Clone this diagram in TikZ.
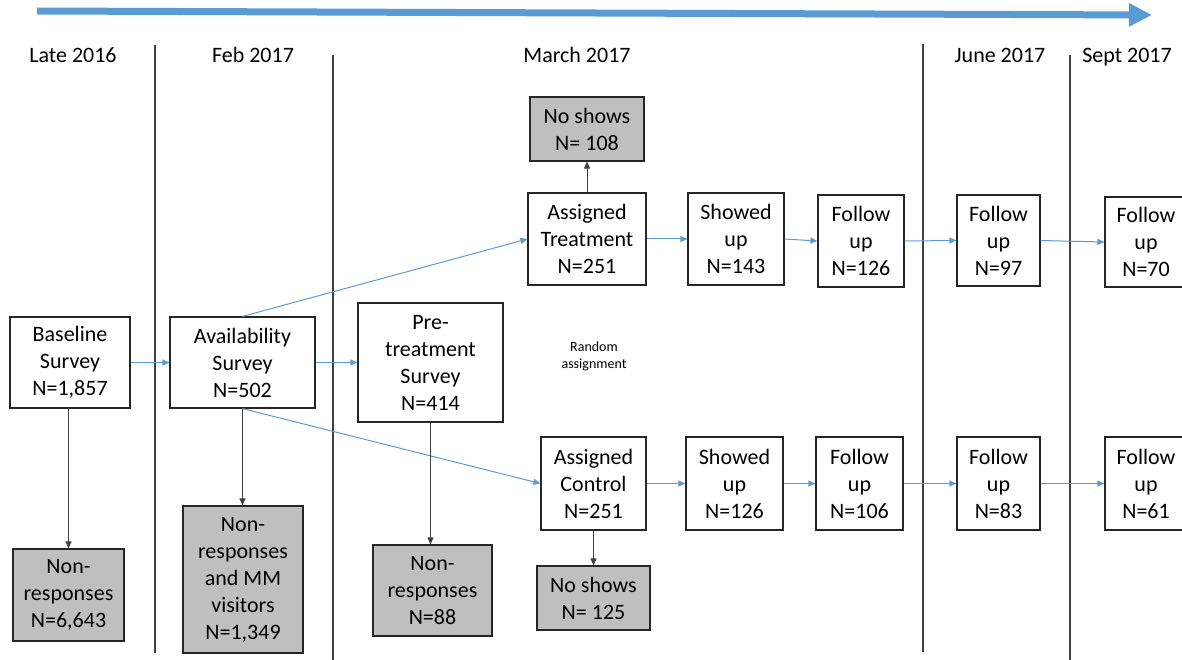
\documentclass[tikz,border=0pt]{standalone}
\usepackage{fontspec}
\setmainfont{Carlito}
\usetikzlibrary{arrows.meta}
\definecolor{tlblue}{HTML}{5B9BD5}
\definecolor{boxgray}{HTML}{BFBFBF}
\definecolor{linegray}{HTML}{404040}
\tikzset{
  box/.style={draw=black!85, line width=1.2pt, inner sep=0pt, align=center, font=\fontsize{22}{27}\selectfont},
  graybox/.style={box, fill=boxgray},
  hdr/.style={anchor=base, inner sep=0pt, font=\fontsize{22}{27}\selectfont},
  bluearrow/.style={draw=tlblue, line width=1pt, -{Triangle[length=7pt,width=6pt]}},
  grayarrow/.style={draw=linegray, line width=1pt, -{Triangle[length=7pt,width=6pt]}},
  sepline/.style={draw=linegray, line width=1.1pt}
}
\begin{document}
\begin{tikzpicture}[x=1pt,y=-1pt]
\useasboundingbox (0,0) rectangle (1182,660);
\clip (0,0) rectangle (1182,660);
% timeline arrow
\coordinate (ts) at (37,11);
\coordinate (te) at (1152,15);
\draw[draw=tlblue, line width=7pt, -{Triangle[length=23pt,width=22pt]}] (ts) -- (te);
% separators
\draw[sepline] (155,45) -- (155,653);
\draw[sepline] (333,55) -- (333,660);
\draw[sepline] (923,44) -- (923,652);
\draw[sepline] (1070,55) -- (1070,660);
% headers
\node[hdr] (h1) at (73,63) {Late 2016};
\node[hdr] (h2) at (253,63) {Feb 2017};
\node[hdr] (h3) at (577,63) {March 2017};
\node[hdr] (h4) at (1000,63) {June 2017};
\node[hdr] (h5) at (1127,63) {Sept 2017};
% boxes
\node[box, minimum width=120pt, minimum height=91pt] (base) at (70,362.5) {Baseline\\Survey\\N=1,857};
\node[box, minimum width=145pt, minimum height=91pt] (avail) at (242.5,362.5) {Availability\\Survey\\N=502};
\node[box, minimum width=145pt, minimum height=119pt] (pre) at (430.5,362.5) {Pre-\\treatment\\Survey\\N=414};
\node[box, minimum width=118pt, minimum height=92pt] (treat) at (587,239) {Assigned\\Treatment\\N=251};
\node[graybox, minimum width=114pt, minimum height=64pt] (ns1) at (587,129) {No shows\\N= 108};
\node[box, minimum width=96pt, minimum height=92pt] (show1) at (736,239) {Showed\\up\\N=143};
\node[box, minimum width=86pt, minimum height=92pt] (fu1) at (861,241) {Follow\\up\\N=126};
\node[box, minimum width=83pt, minimum height=91pt] (fu2) at (998.5,240.5) {Follow\\up\\N=97};
\node[box, minimum width=82pt, minimum height=90pt] (fu3) at (1146,242) {Follow\\up\\N=70};
\node[box, minimum width=105pt, minimum height=93pt] (ctrl) at (593.5,483.5) {Assigned\\Control\\N=251};
\node[box, minimum width=97pt, minimum height=93pt] (show2) at (734.5,483.5) {Showed\\up\\N=126};
\node[box, minimum width=87pt, minimum height=93pt] (fu4) at (859.5,483.5) {Follow\\up\\N=106};
\node[box, minimum width=83pt, minimum height=93pt] (fu5) at (998.5,483.5) {Follow\\up\\N=83};
\node[box, minimum width=82pt, minimum height=93pt] (fu6) at (1146,483.5) {Follow\\up\\N=61};
\node[graybox, minimum width=113pt, minimum height=64pt] (ns2) at (593.5,598) {No shows\\N= 125};
\node[graybox, minimum width=111pt, minimum height=92pt] (nr1) at (68.5,595) {Non-\\responses\\N=6,643};
\node[graybox, minimum width=120pt, minimum height=147pt] (nr2) at (243,579.5) {Non-\\responses\\and MM\\visitors\\N=1,349};
\node[graybox, minimum width=119pt, minimum height=91pt] (nr3) at (432.5,590.5) {Non-\\responses\\N=88};
\node[align=center, inner sep=0pt, font=\fontsize{14}{17}\selectfont] (rand) at (594,356) {Random\\assignment};
% blue connectors
\draw[bluearrow] (base.east) -- (avail.west);
\draw[bluearrow] (avail.east) -- (pre.west);
\draw[bluearrow] (avail.north) -- (treat.west);
\draw[bluearrow] (avail.south) -- (ctrl.west);
\draw[bluearrow] (treat.east) -- (show1.west);
\draw[bluearrow] (show1.east) -- (fu1.west);
\draw[bluearrow] (fu1.east) -- (fu2.west);
\draw[bluearrow] (fu2.east) -- (fu3.west);
\draw[bluearrow] (ctrl.east) -- (show2.west);
\draw[bluearrow] (show2.east) -- (fu4.west);
\draw[bluearrow] (fu4.east) -- (fu5.west);
\draw[bluearrow] (fu5.east) -- (fu6.west);
% gray connectors
\draw[grayarrow] (base.south -| nr1.north) -- (nr1.north);
\draw[grayarrow] (avail.south) -- (avail.south |- nr2.north);
\draw[grayarrow] (pre.south) -- (pre.south |- nr3.north);
\draw[grayarrow] (treat.north) -- (ns1.south);
\draw[grayarrow] (ctrl.south) -- (ns2.north);
\end{tikzpicture}
\end{document}
